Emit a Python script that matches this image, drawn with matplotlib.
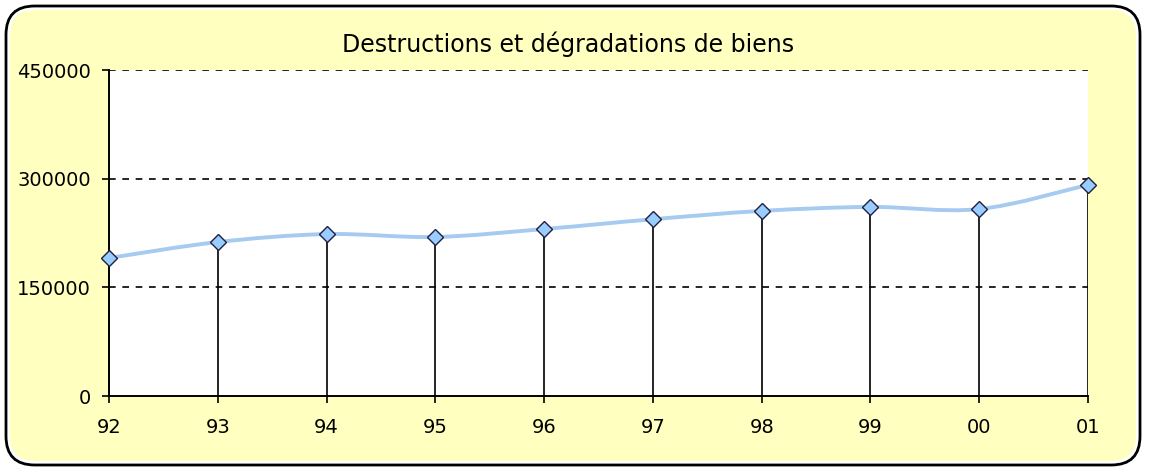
import numpy as np
import matplotlib
matplotlib.use("Agg")
import matplotlib.pyplot as plt
from matplotlib.path import Path
from matplotlib.patches import PathPatch, FancyBboxPatch

# data
years = ["92", "93", "94", "95", "96", "97", "98", "99", "00", "01"]
values = [190500, 212500, 223500, 219500, 230500, 244000, 255500, 261000, 258000, 291500]
yticks = [0, 150000, 300000, 450000]

plt.rcParams['font.family'] = ['DejaVu Sans']

W, H = 1149, 471
fig = plt.figure(figsize=(W / 100, H / 100), dpi=100)
fig.patch.set_facecolor("white")

# rounded frame
frame = FancyBboxPatch((6 / W, 6 / H), 1134 / W, 459 / H,
                       boxstyle="round,pad=0,rounding_size=0.025",
                       transform=fig.transFigure, facecolor="white",
                       edgecolor="black", linewidth=2, mutation_aspect=W / H,
                       zorder=-2)
fig.patches.append(frame)
inner = FancyBboxPatch((10 / W, 10 / H), 1126 / W, 451 / H,
                       boxstyle="round,pad=0,rounding_size=0.022",
                       transform=fig.transFigure, facecolor="#ffffc0",
                       edgecolor="none", mutation_aspect=W / H, zorder=-1)
fig.patches.append(inner)

ax = fig.add_axes([109 / W, 1 - 396 / H, 979 / W, 326 / H])
ax.set_zorder(2)
ax.set_facecolor("white")
x = np.arange(len(years))

# smoothed line drawn as bezier curves through the points
pts = np.column_stack([x, values]).astype(float)
verts = [pts[0]]
codes = [Path.MOVETO]
n = len(pts)
for i in range(n - 1):
    p0 = pts[max(i - 1, 0)]
    p1 = pts[i]
    p2 = pts[i + 1]
    p3 = pts[min(i + 2, n - 1)]
    c1 = p1 + (p2 - p0) / 6
    c2 = p2 - (p3 - p1) / 6
    verts += [c1, c2, p2]
    codes += [Path.CURVE4] * 3
ax.add_patch(PathPatch(Path(verts, codes), facecolor="none",
                       edgecolor="#a6caf0", linewidth=2.8, zorder=3, clip_on=False))

# drop lines
ax.vlines(x, 0, values, color="black", linewidth=1.2, zorder=2)
ax.plot(x, values, linestyle="none", marker="D", markersize=8.5,
        markerfacecolor="#99ccff", markeredgecolor="#202040",
        markeredgewidth=1, zorder=4, clip_on=False)

ax.set_xlim(0, len(years) - 1)
ax.set_ylim(0, 450000)
ax.set_xticks(x)
ax.set_xticklabels(years)
ax.set_yticks(yticks)
ax.set_yticklabels([str(v) for v in yticks])
ax.tick_params(axis="both", labelsize=14, length=5, width=1.2, color="black",
               direction="out")
ax.tick_params(axis="x", pad=11)
ax.tick_params(axis="y", pad=8)

for v in yticks[1:]:
    ax.axhline(v, color="black", linestyle=(0, (4, 4)), linewidth=1.2, zorder=1)

for s in ["top", "right"]:
    ax.spines[s].set_visible(False)
for s in ["left", "bottom"]:
    ax.spines[s].set_linewidth(1.4)
    ax.spines[s].set_color("black")

fig.text(568 / W, 1 - 44 / H, "Destructions et dégradations de biens",
         ha="center", va="center", fontsize=17)

fig.savefig("out.png", dpi=100)
